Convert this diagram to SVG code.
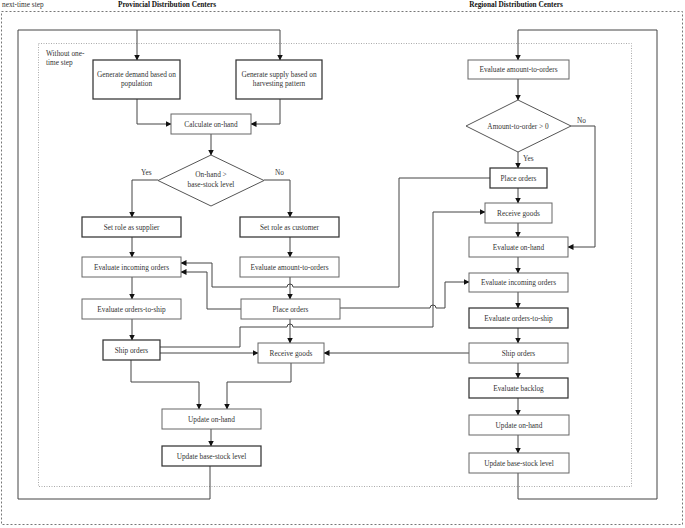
<svg xmlns="http://www.w3.org/2000/svg" width="685" height="528" viewBox="0 0 685 528">
<style>
.b{fill:#fff;stroke:#666;stroke-width:1}
.k{fill:#fff;stroke:#333;stroke-width:1.25}
.d{fill:#fff;stroke:#555;stroke-width:1}
text{font-family:"Liberation Serif","Times New Roman",serif;font-size:7.3px;fill:#333}
.t{text-anchor:middle}
.h{font-weight:bold;text-anchor:middle;fill:#111}
.c{fill:none;stroke:#444;stroke-width:1}
.a{marker-end:url(#ar)}
</style>
<defs>
<marker id="ar" markerUnits="userSpaceOnUse" markerWidth="6" markerHeight="6" refX="5.5" refY="3" orient="auto">
<path d="M0,0 L6,3 L0,6 z" fill="#111"/>
</marker>
</defs>
<g id="frames">
<rect x="1.5" y="11.5" width="681" height="513" fill="none" stroke="#777" stroke-width="1" stroke-dasharray="2,2"/>
<rect x="38.5" y="43.5" width="593" height="443" fill="none" stroke="#aaa" stroke-width="1" stroke-dasharray="1,1.5"/>
<text x="2" y="7">next-time step</text>
<text class="h" x="167" y="7">Provincial Distribution Centers</text>
<text class="h" x="516" y="7">Regional Distribution Centers</text>
<text x="46" y="56">Without one-</text>
<text x="46" y="65">time step</text>
</g>
<g id="connectors">
<path class="c" d="M210,466 V499 H18 V30 H280"/>
<path class="c a" d="M137,30 V60"/>
<path class="c a" d="M280,30 V60"/>
<path class="c" d="M518,473 V499 H657 V30 H518"/>
<path class="c a" d="M518,30 V60"/>
<path class="c a" d="M137,99 V124 H171"/>
<path class="c a" d="M280,99 V124 H251"/>
<path class="c a" d="M211,134 V155"/>
<path class="c a" d="M158,180 H132 V217"/>
<path class="c a" d="M264,180 H290 V217"/>
<path class="c a" d="M132,237 V257"/>
<path class="c a" d="M290,237 V257"/>
<path class="c a" d="M132,277 V299"/>
<path class="c a" d="M290,277 V299"/>
<path class="c a" d="M132,319 V340"/>
<path class="c a" d="M290,319 V343"/>
<path class="c a" d="M131,360 V382 H199 V409"/>
<path class="c a" d="M291,363 V382 H227 V409"/>
<path class="c a" d="M211,429 V446"/>
<path class="c a" d="M490,178 H399 V287 H293 A3,3 0 0 0 287,287 H212 V263 H181"/>
<path class="c a" d="M241,309 H207 V272 H181"/>
<path class="c a" d="M340,308 H430 A3,3 0 0 1 436,308 H445 V282 H469"/>
<path class="c a" d="M160,347 H240 V327 H287 A3,3 0 0 1 293,327 H433 V212 H485"/>
<path class="c a" d="M160,353 H258"/>
<path class="c a" d="M469,353 H324"/>
<path class="c a" d="M518,79 V100"/>
<path class="c a" d="M518,152 V168"/>
<path class="c a" d="M571,126 H595 V247 H568"/>
<path class="c a" d="M518,188 V203"/>
<path class="c a" d="M518,223 V237"/>
<path class="c a" d="M518,257 V273"/>
<path class="c a" d="M518,292 V308"/>
<path class="c a" d="M518,328 V343"/>
<path class="c a" d="M518,363 V378"/>
<path class="c a" d="M518,398 V415"/>
<path class="c a" d="M518,435 V453"/>
<text x="141" y="175">Yes</text>
<text x="275" y="175">No</text>
<text x="577" y="123">No</text>
<text x="523" y="161">Yes</text>
</g>
<g id="gen-demand"><rect class="k" x="93" y="60" width="87" height="39"/><text class="t" x="136.5" y="77">Generate demand based on</text><text class="t" x="136.5" y="86">population</text></g>
<g id="gen-supply"><rect class="k" x="236" y="60" width="86" height="39"/><text class="t" x="279" y="77">Generate supply based on</text><text class="t" x="279" y="86">harvesting pattern</text></g>
<g id="calc-onhand"><rect class="b" x="171" y="114" width="80" height="20"/><text class="t" x="211" y="126.5">Calculate on-hand</text></g>
<g id="dec-onhand"><polygon class="d" points="211,155 264,180.5 211,206 158,180.5"/><text class="t" x="211" y="177">On-hand &gt;</text><text class="t" x="211" y="187">base-stock level</text></g>
<g id="set-supplier"><rect class="k" x="82" y="217" width="99" height="20"/><text class="t" x="131.5" y="229.5">Set role as supplier</text></g>
<g id="set-customer"><rect class="k" x="240" y="217" width="99" height="20"/><text class="t" x="289.5" y="229.5">Set role as customer</text></g>
<g id="p-eval-incoming"><rect class="b" x="82" y="257" width="99" height="20"/><text class="t" x="131.5" y="269.5">Evaluate incoming orders</text></g>
<g id="p-eval-amount"><rect class="b" x="240" y="257" width="99" height="20"/><text class="t" x="289.5" y="269.5">Evaluate amount-to-orders</text></g>
<g id="p-eval-ship"><rect class="b" x="82" y="299" width="99" height="20"/><text class="t" x="131.5" y="311.5">Evaluate orders-to-ship</text></g>
<g id="p-place-orders"><rect class="b" x="241" y="299" width="99" height="20"/><text class="t" x="290.5" y="311.5">Place orders</text></g>
<g id="p-ship-orders"><rect class="k" x="103" y="340" width="57" height="20"/><text class="t" x="131.5" y="352.5">Ship orders</text></g>
<g id="p-receive"><rect class="b" x="258" y="343" width="66" height="20"/><text class="t" x="291" y="355.5">Receive goods</text></g>
<g id="p-update-onhand"><rect class="b" x="162" y="409" width="99" height="20"/><text class="t" x="211.5" y="421.5">Update on-hand</text></g>
<g id="p-update-base"><rect class="k" x="162" y="446" width="99" height="20"/><text class="t" x="211.5" y="458.5">Update base-stock level</text></g>
<g id="r-eval-amount"><rect class="b" x="468" y="60" width="101" height="19"/><text class="t" x="518.5" y="72">Evaluate amount-to-orders</text></g>
<g id="r-dec"><polygon class="d" points="518,100 571,126 518,152 466,126"/><text class="t" x="518" y="128.5">Amount-to-order &gt; 0</text></g>
<g id="r-place-orders"><rect class="k" x="490" y="168" width="57" height="20"/><text class="t" x="518.5" y="180.5">Place orders</text></g>
<g id="r-receive"><rect class="b" x="485" y="203" width="67" height="20"/><text class="t" x="518.5" y="215.5">Receive goods</text></g>
<g id="r-eval-onhand"><rect class="b" x="469" y="237" width="99" height="20"/><text class="t" x="518.5" y="249.5">Evaluate on-hand</text></g>
<g id="r-eval-incoming"><rect class="b" x="469" y="273" width="99" height="19"/><text class="t" x="518.5" y="285">Evaluate incoming orders</text></g>
<g id="r-eval-ship"><rect class="k" x="469" y="308" width="99" height="20"/><text class="t" x="518.5" y="320.5">Evaluate orders-to-ship</text></g>
<g id="r-ship-orders"><rect class="b" x="469" y="343" width="99" height="20"/><text class="t" x="518.5" y="355.5">Ship orders</text></g>
<g id="r-backlog"><rect class="k" x="469" y="378" width="99" height="20"/><text class="t" x="518.5" y="390.5">Evaluate backlog</text></g>
<g id="r-update-onhand"><rect class="b" x="469" y="415" width="100" height="20"/><text class="t" x="519" y="427.5">Update on-hand</text></g>
<g id="r-update-base"><rect class="b" x="469" y="453" width="100" height="20"/><text class="t" x="519" y="465.5">Update base-stock level</text></g>
</svg>
